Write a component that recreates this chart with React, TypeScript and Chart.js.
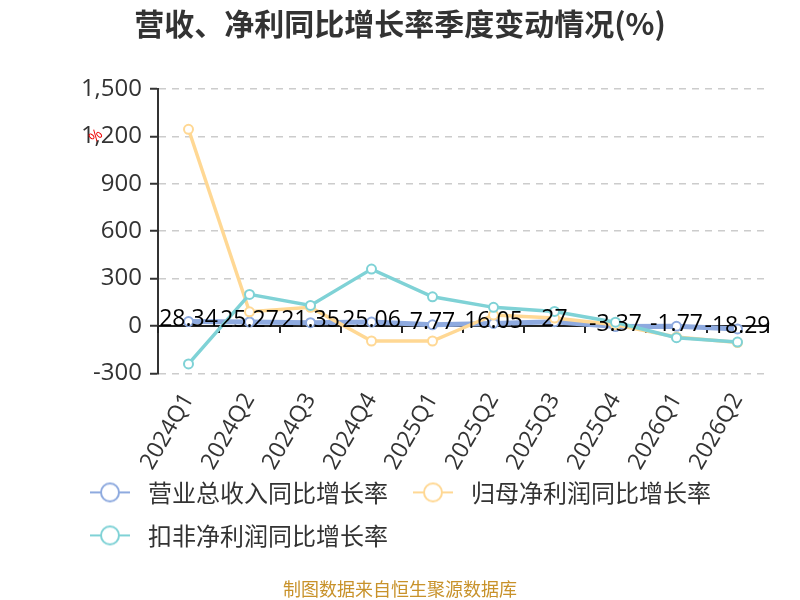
import React, { useEffect, useRef } from "react";
import { Chart, registerables } from "chart.js";

Chart.register(...registerables);

const categories = ["2024Q1", "2024Q2", "2024Q3", "2024Q4", "2025Q1", "2025Q2", "2025Q3", "2025Q4", "2026Q1", "2026Q2"];
const revenueGrowth = [28.34, 25.27, 21.35, 25.06, 7.77, 16.05, 27, -3.37, -1.77, -18.29];
const netProfitGrowth = [1245, 90, 118, -95, -95, 70, 50, 8, -70, -105];
const deductedProfitGrowth = [-240, 200, 130, 360, 185, 118, 92, 24, -74, -102];
const seriesNames = ["营业总收入同比增长率", "归母净利润同比增长率", "扣非净利润同比增长率"];
const seriesColors = ["#8eaadf", "#ffd894", "#7fd2d6"];
const yMin = -300;
const yMax = 1500;
const yStep = 300;
const titleText = "营收、净利同比增长率季度变动情况(%)";
const sourceText = "制图数据来自恒生聚源数据库";

const FONT = "'Open Sans', 'Noto Sans CJK SC', sans-serif";
const CJK = "'Noto Sans CJK SC', 'Open Sans', sans-serif";

function legendIcon(color: string): HTMLCanvasElement {
  const c = document.createElement("canvas");
  c.width = 42;
  c.height = 22;
  const g = c.getContext("2d")!;
  g.strokeStyle = color;
  g.lineWidth = 2;
  g.beginPath();
  g.moveTo(1, 11);
  g.lineTo(41, 11);
  g.stroke();
  g.beginPath();
  g.arc(21, 11, 9, 0, Math.PI * 2);
  g.fillStyle = "#fff";
  g.fill();
  g.stroke();
  return c;
}

const overlayPlugin = {
  id: "overlay",
  afterLayout(chart: any) {
    if (chart.legend) {
      chart.legend.left = 65;
      chart.legend.top -= 12;
      chart.legend.bottom -= 12;
    }
  },
  beforeDatasetsDraw(chart: any) {
    const { ctx, chartArea, scales } = chart;
    const x = scales.x;
    const y = scales.y;
    const y0 = y.getPixelForValue(0);
    const step = x.getPixelForValue(1) - x.getPixelForValue(0);
    ctx.save();
    ctx.strokeStyle = "#222";
    ctx.lineWidth = 2;
    ctx.beginPath();
    ctx.moveTo(chartArea.left, y0);
    ctx.lineTo(chartArea.right, y0);
    ctx.stroke();
    for (let i = 0; i <= categories.length; i++) {
      const px = x.getPixelForValue(0) - step / 2 + i * step;
      ctx.beginPath();
      ctx.moveTo(px, y0);
      ctx.lineTo(px, y0 + 7);
      ctx.stroke();
    }
    ctx.restore();
  },
  afterDatasetsDraw(chart: any) {
    const { ctx, chartArea, scales } = chart;
    const y = scales.y;
    ctx.save();
    const meta = chart.getDatasetMeta(0);
    ctx.fillStyle = "#000";
    ctx.font = `23px ${FONT}`;
    ctx.textAlign = "center";
    ctx.textBaseline = "middle";
    meta.data.forEach((pt: any, i: number) => {
      ctx.fillText(String(revenueGrowth[i]), pt.x, pt.y - 2);
    });
    ctx.fillStyle = "#e00";
    ctx.font = `15px ${FONT}`;
    ctx.translate(chartArea.left - 62, y.getPixelForValue(1200));
    ctx.rotate(-Math.PI / 4);
    ctx.fillText("%", 0, 0);
    ctx.restore();
  },
};

export default function App() {
  const ref = useRef<HTMLCanvasElement | null>(null);
  useEffect(() => {
    if (!ref.current) return;
    const icons = seriesColors.map(legendIcon);
    const mk = (i: number, data: number[], width: number) => ({
      label: seriesNames[i],
      data,
      borderColor: seriesColors[i],
      backgroundColor: "#fff",
      borderWidth: width,
      pointRadius: 4.5,
      pointBorderWidth: 2,
      pointBackgroundColor: "#fff",
      pointBorderColor: seriesColors[i],
      tension: 0,
      order: 3 - i,
    });
    const chart = new Chart(ref.current, {
      type: "line",
      data: {
        labels: categories,
        datasets: [mk(0, revenueGrowth, 5), mk(1, netProfitGrowth, 3.5), mk(2, deductedProfitGrowth, 3.5)],
      },
      options: {
        animation: false,
        responsive: false,
        maintainAspectRatio: false,
        layout: { padding: { left: 32, right: 32, top: 0, bottom: 0 } },
        scales: {
          x: {
            offset: true,
            afterFit: (s: any) => {
              s.height = 100;
            },
            grid: { display: false, drawTicks: false },
            border: { display: false },
            ticks: {
              color: "#333",
              font: { size: 23, family: FONT },
              maxRotation: 60,
              minRotation: 60,
              padding: 15,
            },
          },
          y: {
            min: yMin,
            max: yMax,
            afterFit: (s: any) => {
              s.width = 126;
            },
            ticks: {
              stepSize: yStep,
              color: "#333",
              font: { size: 24, family: FONT },
              padding: 8,
              callback: (v: any) => Number(v).toLocaleString("en-US"),
            },
            grid: {
              color: (c: any) => (c.tick && c.tick.value === 0 ? "rgba(0,0,0,0)" : "#cccccc"),
              lineWidth: 1.5,
              tickLength: 8,
              tickColor: "#333",
              tickWidth: 2,
            },
            border: { display: true, color: "#333", width: 2, dash: [7, 6] },
          },
        },
        plugins: {
          title: {
            display: true,
            text: titleText,
            color: "#333",
            font: { size: 30, weight: "bold", family: CJK },
            padding: { top: 6, bottom: 47 },
          },
          subtitle: {
            display: true,
            text: sourceText,
            position: "bottom",
            color: "#c8922a",
            font: { size: 18, family: CJK },
            padding: { top: 9, bottom: 0 },
          },
          legend: {
            position: "bottom",
            align: "start",
            labels: {
              usePointStyle: true,
              pointStyleWidth: 52,
              color: "#333",
              font: { size: 24, family: CJK },
              padding: 19,
              generateLabels: () =>
                seriesNames.map((n, i) => ({
                  text: n,
                  pointStyle: icons[i],
                  fillStyle: "#fff",
                  strokeStyle: seriesColors[i],
                  lineWidth: 0,
                  hidden: false,
                  datasetIndex: i,
                  fontColor: "#333",
                })),
            },
          },
          tooltip: { enabled: false },
        },
      },
      plugins: [overlayPlugin],
    });
    return () => chart.destroy();
  }, []);
  return (
    <div style={{ position: "fixed", left: 0, top: 0, width: 800, height: 600, background: "#fff" }}>
      <canvas ref={ref} width={800} height={600} style={{ width: 800, height: 600 }} />
    </div>
  );
}
